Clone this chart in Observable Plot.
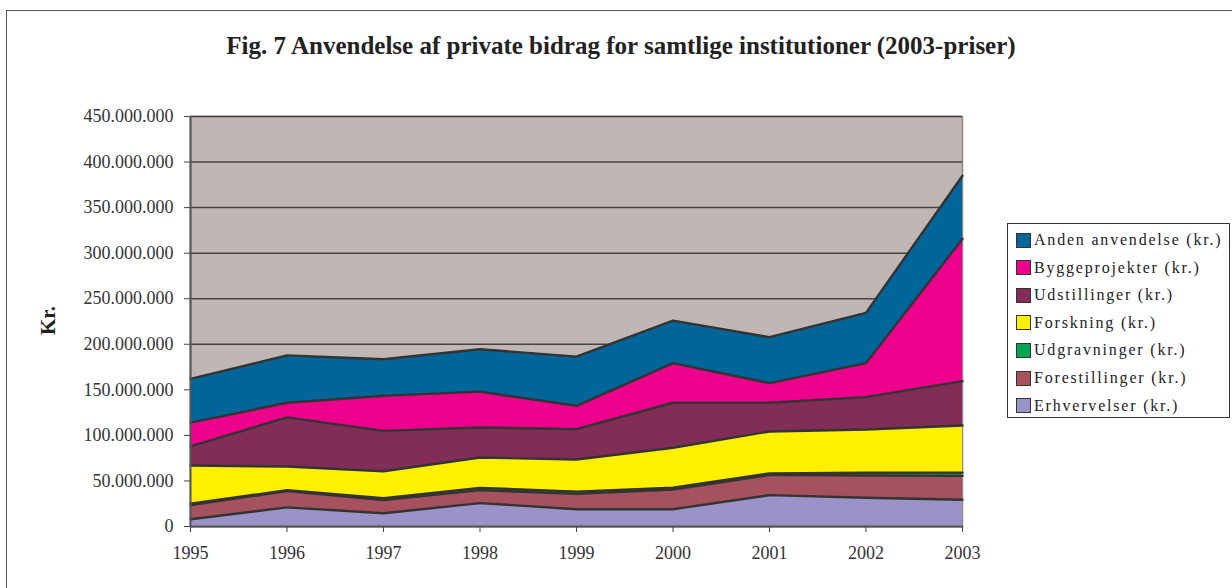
<!DOCTYPE html>
<html>
<head>
<meta charset="utf-8">
<script src="https://cdn.jsdelivr.net/npm/d3@7"></script>
<script src="https://cdn.jsdelivr.net/npm/@observablehq/plot@0.6"></script>
<style>
  html, body { margin: 0; padding: 0; background: #fff; overflow: hidden; }
  #wrap { position: relative; width: 1232px; height: 588px; overflow: hidden; font-family: "Liberation Serif", "Times New Roman", serif; }
  #frame { position: absolute; left: 6px; top: 10px; width: 1240px; height: 600px; border: 1.5px solid #555; box-sizing: border-box; }
  #title { position: relative; height: 100px; width: 1232px; }
  #title span { position: absolute; left: 0; width: 1242px; text-align: center; top: 32px; font-size: 25px; font-weight: bold; color: #222; }
  #ylab { position: absolute; left: 33px; top: 308px; transform: rotate(-90deg); transform-origin: center; font-size: 21px; font-weight: bold; color: #222; width: 30px; text-align: center; }
  #legend { position: absolute; left: 1007px; top: 223px; width: 223px; height: 195px; border: 1.5px solid #333; box-sizing: border-box; background: #fff; }
  .item { position: absolute; left: 8px; height: 20px; display: flex; align-items: center; font-size: 16px; letter-spacing: 1.8px; color: #222; white-space: nowrap; }
  .sw { width: 13px; height: 13px; border: 1px solid #333; margin-right: 3px; flex: none; }
</style>
</head>
<body>
<div id="wrap">
  <div id="frame"></div>
  <div id="title"><span>Fig. 7 Anvendelse af private bidrag for samtlige institutioner (2003-priser)</span></div>
  <div id="chart"></div>
  <div id="ylab">Kr.</div>
  <div id="legend"></div>
</div>
<script>
// ---- data (values in kr.) ----
const years = [1995, 1996, 1997, 1998, 1999, 2000, 2001, 2002, 2003];
const seriesNames = [
  "Erhvervelser (kr.)",
  "Forestillinger (kr.)",
  "Udgravninger (kr.)",
  "Forskning (kr.)",
  "Udstillinger (kr.)",
  "Byggeprojekter (kr.)",
  "Anden anvendelse (kr.)"
];
const erhvervelser   = [8.0e6, 21.0e6, 14.6e6, 25.6e6, 19.0e6, 19.0e6, 34.4e6, 31.5e6, 29.3e6];
const forestillinger = [15.5e6, 17.8e6, 14.4e6, 14.3e6, 16.8e6, 21.6e6, 22.3e6, 24.5e6, 26.3e6];
const udgravninger   = [1.5e6, 1.0e6, 2.0e6, 2.5e6, 2.5e6, 2.0e6, 1.5e6, 3.0e6, 3.5e6];
const forskning      = [42.0e6, 26.0e6, 29.7e6, 33.3e6, 35.2e6, 43.8e6, 46.1e6, 47.5e6, 51.8e6];
const udstillinger   = [21.0e6, 54.0e6, 44.3e6, 33.0e6, 33.3e6, 49.4e6, 31.5e6, 35.5e6, 48.6e6];
const byggeprojekter = [26.0e6, 16.0e6, 38.5e6, 39.3e6, 25.7e6, 43.5e6, 21.5e6, 37.3e6, 156.3e6];
const andenAnvendelse= [48.0e6, 52.0e6, 40.0e6, 46.6e6, 54.0e6, 46.7e6, 50.5e6, 55.2e6, 69.2e6];
const yTicks = [0, 50e6, 100e6, 150e6, 200e6, 250e6, 300e6, 350e6, 400e6, 450e6];
const colors = ["#9a93c7", "#a5525e", "#00a651", "#fff000", "#822d56", "#ec008c", "#006699"];

const seriesValues = [erhvervelser, forestillinger, udgravninger, forskning, udstillinger, byggeprojekter, andenAnvendelse];
const data = [];
seriesNames.forEach((name, i) => {
  years.forEach((yr, j) => data.push({year: yr, series: name, value: seriesValues[i][j]}));
});

const loc = d3.formatLocale({decimal: ",", thousands: ".", grouping: [3], currency: ["", ""]});
const fmt = loc.format(",.0f");

const stackOpts = {x: "year", y: "value", z: "series", order: seriesNames};

const chart = Plot.plot({
  width: 1232,
  height: 488,
  marginLeft: 190,
  marginRight: 270,
  marginTop: 16,
  marginBottom: 62,
  style: {fontFamily: "'Liberation Serif', 'Times New Roman', serif", fontSize: "17px", color: "#333", background: "transparent"},
  x: {type: "linear", domain: [1995, 2003]},
  y: {domain: [0, 450e6]},
  color: {domain: seriesNames, range: colors},
  marks: [
    Plot.frame({fill: "#c0b7b4", stroke: "#8f8886", strokeWidth: 1.5}),
    Plot.gridY(yTicks, {stroke: "#444", strokeOpacity: 1, strokeWidth: 1.5}),
    Plot.areaY(data, Plot.stackY({...stackOpts, fill: "series"})),
    Plot.lineY(data, Plot.stackY2({...stackOpts, stroke: "#333", strokeWidth: 2.4})),
    Plot.axisY(yTicks, {tickFormat: d => fmt(d), tickSize: 6, tickPadding: 11, stroke: "#444", fontSize: 18, letterSpacing: 1.2, label: null}),
    Plot.axisX(years, {tickFormat: d => String(d), tickSize: 6, tickPadding: 14, stroke: "#444", fontSize: 18, label: null}),
    Plot.ruleX([1995], {stroke: "#555", strokeWidth: 2}),
    Plot.ruleY([0], {stroke: "#555", strokeWidth: 2})
  ]
});
document.getElementById("chart").appendChild(chart);

// legend (top to bottom order as in reference)
const legend = document.getElementById("legend");
const legendOrder = seriesNames.slice().reverse();
const legendColors = colors.slice().reverse();
legendOrder.forEach((name, i) => {
  const row = document.createElement("div");
  row.className = "item";
  row.style.top = (6 + i * 27.6) + "px";
  const sw = document.createElement("span");
  sw.className = "sw";
  sw.style.background = legendColors[i];
  const tx = document.createElement("span");
  tx.textContent = name;
  row.appendChild(sw);
  row.appendChild(tx);
  legend.appendChild(row);
});
</script>
</body>
</html>
